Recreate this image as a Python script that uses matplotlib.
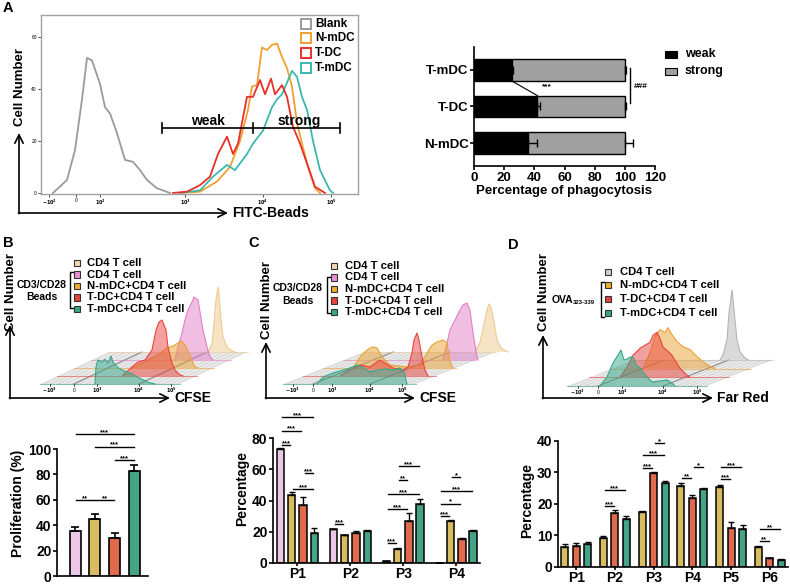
import matplotlib
matplotlib.use("Agg")
import matplotlib.pyplot as plt
import numpy as np
from matplotlib.patches import Rectangle

# ---------------- data ----------------
# A: phagocytosis histogram (channel position along FITC axis, cell count)
blank_x = [53, 67, 75, 82, 87, 92, 100, 105, 110, 117, 125, 133, 140, 147, 157, 170]
blank_y = [0, 5, 16.5, 36, 52, 51, 42, 33, 30.6, 23, 12.7, 12, 8.8, 5, 1.8, 0]
nmdc_x = [180, 200, 217, 230, 240, 248, 252, 257, 262, 267, 272, 277, 282, 287, 292, 297, 302, 308, 315, 320]
nmdc_y = [0, 0.5, 4.4, 10, 20, 32, 41, 41.5, 56, 55, 57, 57.5, 52.4, 48, 41, 27, 19, 10, 1.8, 0]
tdc_x = [173, 187, 200, 210, 218, 227, 233, 238, 243, 247, 253, 260, 265, 271, 275, 282, 287, 293, 300, 307, 315, 325]
tdc_y = [0, 0.5, 3, 6.3, 15, 21.7, 15, 19, 29, 37, 37, 43.5, 38, 44, 38, 41.5, 37, 25.5, 19, 11.4, 2.4, 0]
tmdc_x = [180, 200, 213, 227, 235, 247, 253, 263, 272, 277, 282, 292, 297, 302, 307, 313, 320, 330, 333]
tmdc_y = [0, 1, 6.3, 10.8, 8.8, 15, 19, 24, 33, 36, 38, 47, 44.7, 37, 32, 20, 8.8, 1, 0]
gate_x = [162, 253, 340]
gate_y = 25
fitc_ticks = [49, 76, 100, 185, 263, 331]
fitc_labels = [r"$-10^2$", "0", r"$10^2$", r"$10^3$", r"$10^4$", r"$10^5$"]

# A: percentage of phagocytosis
phago_groups = ["N-mDC", "T-DC", "T-mDC"]
weak = [36, 42, 25]
weak_err = [5.5, 1.5, 1.0]
total = [100, 100, 100]
total_err = [5.5, 1.0, 1.0]

# B: CFSE stacks (front to back), channel position and count
b_teal_x = [55, 56, 58, 62, 65, 68, 71, 73, 77, 82, 87, 92, 97, 102, 108, 115]
b_teal_y = [0, 17, 24, 22, 24.7, 21, 28, 22, 17, 14, 12, 10, 7, 4.7, 1.7, 0]
b_red_x = [65, 75, 81, 88, 95, 99, 102, 105, 109, 111, 115, 118, 123, 126]
b_red_y = [0, 9, 14, 16, 26, 46, 54, 56, 46, 29, 13, 6, 1, 0]
b_orange_x = [58, 64, 74, 84, 93, 99, 104, 108, 111, 114, 118, 121, 124]
b_orange_y = [0, 3, 8, 13, 20, 22, 25, 27, 23, 17, 7, 1, 0]
b_pink_x = [84, 87, 91, 94, 97, 101, 103, 107, 109, 112, 116, 119, 122]
b_pink_y = [0, 13, 27, 40, 50, 58, 63, 60, 48, 30, 13, 3, 0]
b_beige_x = [100, 104, 106, 108, 110, 111, 113, 115, 119, 124, 127]
b_beige_y = [0, 8, 28, 52, 65, 58, 32, 15, 5, 1, 0]

# B: proliferation
prolif = [35.4, 44.6, 30.2, 82.7]
prolif_err = [3.4, 4.0, 3.9, 4.7]
prolif_sig = [(0, 1, 60, "**"), (1, 2, 60, "**"), (2, 3, 91, "***"), (1, 3, 102, "***"), (0, 3, 112, "***")]

# C: CFSE stacks
c_teal_x = [34, 40, 50, 60, 67, 74, 79, 87, 94, 104, 110, 117, 121, 124]
c_teal_y = [0, 7, 11, 14, 16, 19, 17, 12, 14, 15, 14, 16, 12, 0]
c_red_x = [37, 47, 57, 67, 77, 82, 90, 100, 105, 109, 111, 114, 116, 119, 122, 125]
c_red_y = [0, 6, 11, 9, 16, 13, 8, 6, 9, 23, 36, 43, 36, 19, 6, 0]
c_orange_x = [30, 37, 44, 49, 54, 59, 67, 84, 97, 104, 109, 114, 120, 124, 127, 130]
c_orange_y = [0, 11, 18, 21, 20, 11, 3, 1, 3, 15, 23, 26, 28, 25, 6, 0]
c_pink_x = [100, 104, 107, 112, 117, 120, 124, 127, 130, 134, 135]
c_pink_y = [0, 17, 30, 40, 50, 55, 57, 50, 27, 3, 0]
c_beige_x = [112, 117, 121, 124, 126, 128, 131, 134, 139, 145]
c_beige_y = [0, 10, 28, 42, 48, 45, 30, 12, 3, 0]

# C: division peaks
c_groups = ["P1", "P2", "P3", "P4"]
c_cd4 = [72.8, 21.5, 1.0, 0.1]
c_cd4_err = [0.5, 0.4, 0.3, 0.1]
c_nmdc = [43.7, 17.7, 8.9, 26.8]
c_nmdc_err = [1.5, 0.5, 1.0, 0.5]
c_tdc = [37.3, 19.0, 27.2, 15.2]
c_tdc_err = [4.7, 1.3, 5.0, 0.5]
c_tmdc = [19.0, 20.5, 37.8, 20.5]
c_tmdc_err = [3.6, 0.5, 3.2, 0.5]
c_sig = [(0, 0, 1, 75.7, "***"), (0, 0, 2, 84.8, "***"), (0, 0, 3, 93.2, "***"),
         (0, 2, 3, 57.8, "***"), (0, 1, 3, 47.3, "***"), (1, 0, 1, 24.7, "***"),
         (2, 0, 1, 12.7, "***"), (2, 0, 2, 34.3, "***"), (2, 0, 3, 44.0, "***"),
         (2, 1, 2, 53.3, "**"), (2, 1, 3, 61.8, "***"),
         (3, 0, 1, 30.0, "***"), (3, 0, 2, 38.0, "*"), (3, 0, 3, 46.0, "***"), (3, 1, 2, 55.0, "*")]

# D: Far Red stacks
d_teal_x = [33, 40, 46, 51, 54, 57, 60, 63, 66, 69, 73, 78, 85, 93, 100, 105, 108]
d_teal_y = [0, 9, 23, 31, 36, 26, 27, 29, 29, 21, 18, 11, 4, 5, 6, 3, 0]
d_red_x = [31, 38, 44, 51, 56, 61, 64, 68, 71, 74, 78, 83, 86, 91, 98, 101]
d_red_y = [0, 10, 22, 29, 32, 35, 42, 45, 39, 30, 27, 22, 17, 9, 2, 0]
d_orange_x = [32, 39, 44, 49, 54, 57, 61, 66, 72, 79, 86, 92, 99, 104]
d_orange_y = [0, 16, 32, 39, 36, 41, 34, 27, 22, 19, 12, 7, 2, 0]
d_gray_x = [87, 90, 94, 96, 99, 101, 104, 107, 112, 115]
d_gray_y = [0, 5, 20, 47, 70, 50, 20, 8, 2, 0]

# D: division peaks
d_groups = ["P1", "P2", "P3", "P4", "P5", "P6"]
d_nmdc = [6.5, 9.3, 17.6, 25.7, 25.4, 6.3]
d_nmdc_err = [0.8, 0.5, 0.2, 0.8, 0.7, 0.3]
d_tdc = [6.7, 17.0, 29.7, 22.0, 12.5, 2.8]
d_tdc_err = [0.8, 1.2, 0.5, 0.8, 1.8, 0.2]
d_tmdc = [7.2, 15.2, 26.8, 24.7, 12.0, 2.1]
d_tmdc_err = [0.7, 1.0, 0.6, 0.3, 1.3, 0.5]
d_sig = [(1, 0, 1, 19.4, "***"), (1, 0, 2, 24.3, "***"), (2, 0, 1, 31.4, "***"),
         (2, 0, 2, 35.4, "***"), (2, 1, 2, 39.4, "*"), (3, 0, 1, 28.1, "**"),
         (3, 1, 2, 31.6, "*"), (4, 0, 1, 27.9, "***"), (4, 0, 2, 31.6, "***"),
         (5, 0, 1, 8.3, "**"), (5, 0, 2, 12.0, "**")]

cfse_labels = [r"$-10^3$", "0", r"$10^3$", r"$10^4$", r"$10^5$"]

# ---------------- style ----------------
plt.rcParams["font.family"] = ["Liberation Sans", "DejaVu Sans"]
plt.rcParams["font.weight"] = "bold"
plt.rcParams["axes.labelweight"] = "bold"
plt.rcParams["axes.linewidth"] = 1.2
plt.rcParams["xtick.major.width"] = 1.2
plt.rcParams["ytick.major.width"] = 1.2

BAR_PINK, BAR_GOLD, BAR_RED, BAR_TEAL = "#EBC6E6", "#D8BC62", "#E06A4E", "#45A386"
H_BEIGE, H_PINK, H_ORANGE, H_RED, H_TEAL, H_GRAY = "#EFC98F", "#E27FC8", "#EBA232", "#E8443E", "#35A88A", "#B5B5B5"

W, H = 790, 584
fig = plt.figure(figsize=(7.9, 5.84), dpi=100)


def px_axes(l, t, r, b):
    return fig.add_axes([l / W, 1 - b / H, (r - l) / W, (b - t) / H])


# ---------------- A left: FITC histogram ----------------
axA = px_axes(41, 15, 358, 194)
axA.plot(blank_x, blank_y, color="#9A9A9A", lw=1.3)
axA.plot(nmdc_x, nmdc_y, color="#F0A030", lw=1.3)
axA.plot(tmdc_x, tmdc_y, color="#3CB8AE", lw=1.3)
axA.plot(tdc_x, tdc_y, color="#E8302A", lw=1.3)
axA.plot([gate_x[0], gate_x[2]], [gate_y, gate_y], color="k", lw=1.2)
for gx in gate_x:
    axA.plot([gx, gx], [gate_y - 1.8, gate_y + 1.8], color="k", lw=1.2)
axA.text((gate_x[0] + gate_x[1]) / 2, gate_y + 2.8, "weak", ha="center", va="center", fontsize=10)
axA.text((gate_x[1] + gate_x[2]) / 2 + 3, gate_y + 2.8, "strong", ha="center", va="center", fontsize=10)
axA.set_xlim(41, 358)
axA.set_ylim(-0.4, 68.5)
axA.set_xticks(fitc_ticks)
axA.set_xticklabels(fitc_labels, fontsize=3.5, fontweight="normal")
axA.set_yticks([0, 20, 40, 60])
axA.set_yticklabels(["0", "20", "40", "60"], fontsize=3.5, fontweight="normal")
axA.tick_params(length=2, width=0.5, pad=1)
for s in axA.spines.values():
    s.set_color("#A0A0A0")
    s.set_linewidth(1.0)

# ---------------- A right: phagocytosis bars ----------------
axP = px_axes(474, 47, 655, 166)
yy = np.arange(len(phago_groups))
strong = np.array(total) - np.array(weak)
axP.barh(yy, weak, height=0.6, color="black", edgecolor="black", lw=1)
axP.barh(yy, strong, left=weak, height=0.6, color="#A0A0A0", edgecolor="black", lw=1)
axP.errorbar(weak, yy, xerr=[np.zeros(3), weak_err], fmt="none", ecolor="black", capsize=3, elinewidth=1, capthick=1)
axP.errorbar(total, yy, xerr=[np.zeros(3), total_err], fmt="none", ecolor="black", capsize=3, elinewidth=1, capthick=1)
axP.plot([weak[2], weak[1]], [2 - 0.3, 1 + 0.3], color="k", lw=0.8)
axP.text(45, 1.55, "***", fontsize=6, ha="left", va="center")
axP.plot([103.5, 103.5], [2.05, 1.1], color="k", lw=1)
axP.text(106, 1.55, "###", fontsize=6, ha="left", va="center")
axP.set_xlim(0, 120)
axP.set_ylim(-0.63, 2.63)
axP.set_xticks(range(0, 121, 20))
axP.set_yticks(yy)
axP.set_yticklabels(phago_groups)
axP.tick_params(labelsize=9.5, length=3, pad=1)
axP.set_xlabel("Percentage of phagocytosis", fontsize=9.5, labelpad=1)
axP.spines["top"].set_visible(False)
axP.spines["right"].set_visible(False)


def sig(ax, x1, x2, y, txt):
    ax.plot([x1 + 0.03, x2 - 0.03], [y, y], color="k", lw=1)
    ax.annotate(txt, ((x1 + x2) / 2, y), xytext=(0, -1.5), textcoords="offset points",
                ha="center", va="bottom", fontsize=5.5)


def style_bars(ax, top):
    ax.spines["top"].set_visible(False)
    ax.spines["right"].set_visible(False)
    ax.spines["left"].set_bounds(0, top)
    ax.tick_params(labelsize=10, length=3, pad=1)


# ---------------- B bottom: proliferation ----------------
axB = px_axes(57, 430, 148, 576)
xb = np.arange(4)
axB.bar(xb, prolif, width=0.56, color=[BAR_PINK, BAR_GOLD, BAR_RED, BAR_TEAL], edgecolor="black", lw=1.2)
axB.errorbar(xb, prolif, yerr=[np.zeros(4), prolif_err], fmt="none", ecolor="black", capsize=3, elinewidth=1.2, capthick=1.2)
for a, b, y, t in prolif_sig:
    sig(axB, a, b, y, t)
axB.set_xlim(-0.92, 3.7)
axB.set_ylim(0, 115)
axB.set_xticks([])
axB.set_yticks(range(0, 101, 20))
axB.set_ylabel("Proliferation (%)", fontsize=10, labelpad=2)
style_bars(axB, 100)

# ---------------- C bottom ----------------
axC = px_axes(273, 413, 480, 563)
xc = np.arange(len(c_groups))
offs = [-0.32, -0.107, 0.107, 0.32]
series = [(c_cd4, c_cd4_err, BAR_PINK), (c_nmdc, c_nmdc_err, BAR_GOLD),
          (c_tdc, c_tdc_err, BAR_RED), (c_tmdc, c_tmdc_err, BAR_TEAL)]
for k, (v, e, col) in enumerate(series):
    axC.bar(xc + offs[k], v, width=0.14, color=col, edgecolor="black", lw=1.1)
    axC.errorbar(xc + offs[k], v, yerr=[np.zeros(4), e], fmt="none", ecolor="black", capsize=2, elinewidth=1, capthick=1)
for g, a, b, y, t in c_sig:
    sig(axC, g + offs[a], g + offs[b], y, t)
axC.set_xlim(-0.46, 3.45)
axC.set_ylim(0, 96)
axC.set_xticks(xc)
axC.set_xticklabels(c_groups)
axC.set_yticks(range(0, 81, 20))
axC.set_ylabel("Percentage", fontsize=10, labelpad=2)
style_bars(axC, 80)
axC.tick_params(axis="x", labelsize=10, length=2.5, pad=0.5)

# ---------------- D bottom ----------------
axD = px_axes(558, 434, 788, 567)
xd = np.arange(len(d_groups))
offd = [-0.295, 0.0, 0.295]
series = [(d_nmdc, d_nmdc_err, BAR_GOLD), (d_tdc, d_tdc_err, BAR_RED), (d_tmdc, d_tmdc_err, BAR_TEAL)]
for k, (v, e, col) in enumerate(series):
    axD.bar(xd + offd[k], v, width=0.18, color=col, edgecolor="black", lw=1.1)
    axD.errorbar(xd + offd[k], v, yerr=[np.zeros(6), e], fmt="none", ecolor="black", capsize=2, elinewidth=1, capthick=1)
for g, a, b, y, t in d_sig:
    sig(axD, g + offd[a], g + offd[b], y, t)
axD.set_xlim(-0.47, 5.47)
axD.set_ylim(0, 42.2)
axD.set_xticks(xd)
axD.set_xticklabels(d_groups)
axD.set_yticks(range(0, 41, 10))
axD.set_ylabel("Percentage", fontsize=10, labelpad=2)
style_bars(axD, 40)
axD.tick_params(axis="x", labelsize=10, length=2.5, pad=0.5)

# ---------------- overlay: stacked histograms, legends, arrows ----------------
ov = fig.add_axes([0, 0, 1, 1])
ov.set_xlim(0, W)
ov.set_ylim(H, 0)
ov.axis("off")
ov.patch.set_alpha(0)


def stack(layers, colors, x0, y0, dx, dy, length, ticks):
    n = len(layers)
    bk = n - 1
    ov.fill([x0, x0 + length, x0 + length + bk * dx, x0 + bk * dx],
            [y0, y0, y0 - bk * dy, y0 - bk * dy], color="#EAEAEA", lw=0, zorder=1)
    for gx in np.arange(4, length, 7):
        ov.plot([x0 + gx, x0 + gx + bk * dx], [y0, y0 - bk * dy], color="#C4C4C4", lw=0.35, zorder=1)
    for gx in ticks[1:2] + ticks[3:4]:
        ov.plot([x0 + gx, x0 + gx + bk * dx], [y0, y0 - bk * dy], color="#8A8A8A", lw=0.8, zorder=1)
    for i in range(bk, -1, -1):
        lx, ly = layers[i]
        bx, by = x0 + i * dx, y0 - i * dy
        xs = bx + np.asarray(lx, dtype=float)
        ys = by - np.asarray(ly, dtype=float)
        z = 2 + 3 * (bk - i)
        ov.plot([bx, bx + length], [by, by], color=colors[i], lw=0.7, alpha=0.6, zorder=z)
        ov.fill(xs, ys, facecolor=colors[i], alpha=0.5, lw=0, zorder=z + 1)
        ov.plot(xs, ys, color=colors[i], lw=0.8, zorder=z + 2)
    for t, lab in zip(ticks, cfse_labels):
        ov.plot([x0 + t, x0 + t], [y0, y0 + 2], color="k", lw=0.5, zorder=30)
        ov.text(x0 + t, y0 + 6, lab, fontsize=3.5, ha="center", va="center", fontweight="normal", zorder=30)
    for t in np.arange(2, ticks[-1] + 6, 3):
        ov.plot([x0 + t, x0 + t], [y0, y0 + 1.2], color="#555555", lw=0.3, zorder=30)


stack([(b_teal_x, b_teal_y), (b_red_x, b_red_y), (b_orange_x, b_orange_y),
       (b_pink_x, b_pink_y), (b_beige_x, b_beige_y)],
      [H_TEAL, H_RED, H_ORANGE, H_PINK, H_BEIGE], 40, 384, 17, 8, 140, [10, 34, 57, 99, 131])
stack([(c_teal_x, c_teal_y), (c_red_x, c_red_y), (c_orange_x, c_orange_y),
       (c_pink_x, c_pink_y), (c_beige_x, c_beige_y)],
      [H_TEAL, H_RED, H_ORANGE, H_PINK, H_BEIGE], 283, 384, 20, 8, 133, [10, 30, 49, 87, 119])
stack([(d_teal_x, d_teal_y), (d_red_x, d_red_y), (d_orange_x, d_orange_y), (d_gray_x, d_gray_y)],
      [H_TEAL, H_RED, H_ORANGE, H_GRAY], 567, 386, 22, 8.7, 140, [11, 31, 55, 96, 130])


def arrows(x, ytop, y, xr, label, ylabel_y):
    ov.annotate("", xy=(x, ytop), xytext=(x, y + 0.6),
                arrowprops=dict(arrowstyle="->,head_length=0.6,head_width=0.3", lw=1.2, color="k", shrinkA=0, shrinkB=0))
    ov.annotate("", xy=(xr, y), xytext=(x - 0.6, y),
                arrowprops=dict(arrowstyle="->,head_length=0.6,head_width=0.3", lw=1.2, color="k", shrinkA=0, shrinkB=0))
    ov.text(xr + 4, y, label, fontsize=10, ha="left", va="center")
    ov.text(x + 1, ylabel_y, "Cell Number", fontsize=9.5, rotation=90, ha="center", va="center")


arrows(19, 133, 213, 228, "FITC-Beads", 87)
arrows(10, 325, 398, 170, "CFSE", 292)
arrows(266, 342, 398, 415, "CFSE", 300)
arrows(543, 335, 398, 713, "Far Red", 292)

# A legend
for yc, lab, col in zip([24, 38, 53, 68], ["Blank", "N-mDC", "T-DC", "T-mDC"],
                        ["#9A9A9A", "#F0A030", "#E8302A", "#3CB8AE"]):
    ov.add_patch(Rectangle((301, yc - 5), 10, 10, facecolor="white", edgecolor=col, lw=1.4))
    ov.text(315, yc, lab, fontsize=8.5, va="center", ha="left")

# phagocytosis legend
ov.add_patch(Rectangle((665, 51), 12, 6.5, facecolor="black", edgecolor="black", lw=0.8))
ov.text(685, 54, "weak", fontsize=9, va="center")
ov.add_patch(Rectangle((665, 68), 12, 6.5, facecolor="#A0A0A0", edgecolor="black", lw=0.8))
ov.text(685, 71, "strong", fontsize=9, va="center")


def stack_legend(sx, tx, rows, labels, cols, bracket_x, br_top, br_bot):
    for yc, lab, col in zip(rows, labels, cols):
        ov.add_patch(Rectangle((sx, yc - 3.2), 6.4, 6.4, facecolor=col, edgecolor="#333333", lw=0.8))
        ov.text(tx, yc, lab, fontsize=8.1, va="center", ha="left")
    ov.plot([bracket_x + 2.5, bracket_x, bracket_x, bracket_x + 2.5], [br_top, br_top, br_bot, br_bot], color="k", lw=1)


leg5 = ["CD4 T cell", "CD4 T cell", "N-mDC+CD4 T cell", "T-DC+CD4 T cell", "T-mDC+CD4 T cell"]
col5 = ["#F3D9B0", "#E890D4", "#EEAE2E", "#E6413B", "#35A88A"]
stack_legend(74, 87, [263, 274.5, 286, 297.5, 309], leg5, col5, 70, 272, 308)
ov.text(42, 285, "CD3/CD28", fontsize=7.5, ha="center", va="center")
ov.text(42, 297, "Beads", fontsize=7.5, ha="center", va="center")

stack_legend(331, 345, [266, 277.5, 289, 300.5, 312], leg5, col5, 327, 277, 313)
ov.text(298, 288, "CD3/CD28", fontsize=7.5, ha="center", va="center")
ov.text(298, 301, "Beads", fontsize=7.5, ha="center", va="center")

leg4 = ["CD4 T cell", "N-mDC+CD4 T cell", "T-DC+CD4 T cell", "T-mDC+CD4 T cell"]
col4 = ["#D0D0D0", "#EEAE2E", "#E6413B", "#35A88A"]
stack_legend(605, 620, [272, 285, 299, 313], leg4, col4, 601, 282, 317)
ov.text(552, 300, "OVA", fontsize=7.5, ha="left", va="center")
ov.text(573, 303, "323-339", fontsize=4.2, ha="left", va="center")

# panel letters
for x, y, t in [(3, 8, "A"), (3, 243, "B"), (248, 243, "C"), (508, 245, "D")]:
    ov.text(x, y, t, fontsize=10.5, ha="left", va="center")

fig.savefig("out.png", dpi=100)
